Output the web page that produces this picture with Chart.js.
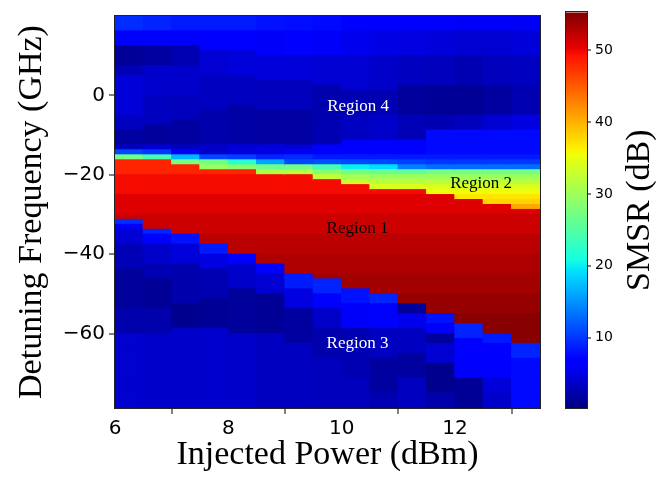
<!DOCTYPE html>
<html>
<head>
<meta charset="utf-8">
<script src="https://cdn.jsdelivr.net/npm/chart.js@4.4.1/dist/chart.umd.min.js"></script>
<style>
  html, body { margin: 0; padding: 0; background: #fff; }
  #wrap { position: relative; width: 668px; height: 480px; }
  #mapBox { position: absolute; left: 0; top: 0; }
  #barBox { position: absolute; left: 548px; top: 0; }
</style>
</head>
<body>
<div id="wrap">
  <div id="mapBox"><canvas id="smsrMap" width="548" height="480"></canvas></div>
  <div id="barBox"><canvas id="smsrBar" width="120" height="480"></canvas></div>
</div>
<script>
// injected power, column centres (dBm), columns are 0.5 dBm wide
const injectedPower = [6.25, 6.75, 7.25, 7.75, 8.25, 8.75, 9.25, 9.75, 10.25, 10.75, 11.25, 11.75, 12.25, 12.75, 13.25];
// detuning grid (GHz)
const detuningTop = 20;
const detuningBottom = -78.75;
const detuningStep = 1.25;

// region 1 (locked) edges for each column, GHz
const lockTop = [-16.25, -16.25, -17.5, -18.75, -18.75, -20, -20, -21.25, -22.5, -23.75, -23.75, -25, -26.25, -27.5, -28.75];
const lockBottom = [-31.25, -33.75, -35, -37.5, -40, -42.5, -45, -46.25, -48.75, -50, -52.5, -55, -57.5, -60, -62.5];
// SMSR inside region 1 by detuning band: [lower edge GHz, dB]
const lockSmsr = [[-20, 48.3], [-25, 49.7], [-30, 50.8], [-35, 51.6], [-40, 52.5], [-45, 53.1], [-50, 53.6], [-55, 54.2], [-65, 54.9]];

// above region 1 (regions 4 and 2), from +20 GHz down: [lower edge GHz, dB]
const upperSmsr = [
  [[16.25, 9.5], [12.5, 6.5], [7.5, 1.4], [5, 2.8], [-5, 4.4], [-8.75, 3.3], [-12.5, 1.8], [-13.75, 3.3], [-15, 11], [-16.25, 27]],
  [[16.25, 9], [12.5, 7], [7.5, 1.8], [0, 3.9], [-7.5, 3.3], [-12.5, 1.6], [-13.75, 4.2], [-15, 10], [-16.25, 24]],
  [[16.25, 8.5], [12.5, 6.5], [7.5, 2.6], [0, 3.8], [-6.25, 3.1], [-12.5, 1.8], [-13.75, 3.3], [-15, 6], [-16.25, 17], [-17.5, 27.5]],
  [[16.25, 8.5], [11.25, 6.8], [5, 4.1], [-3.75, 3.3], [-12.5, 2.3], [-15, 3.8], [-16.25, 11], [-17.5, 27], [-18.75, 29.5]],
  [[16.25, 8.5], [11.25, 6.2], [5, 4.5], [-2.5, 3.3], [-12.5, 2.1], [-15, 4.5], [-16.25, 10.5], [-17.5, 22], [-18.75, 28.5]],
  [[16.25, 8], [10, 6], [3.75, 4.5], [-3.75, 3.1], [-12.5, 1.9], [-15, 4.8], [-16.25, 9], [-17.5, 16], [-18.75, 27], [-20, 31]],
  [[16.25, 7.8], [10, 6.3], [3.75, 4.5], [-3.75, 3.1], [-12.5, 1.9], [-13.75, 4.3], [-15, 6], [-16.25, 9.5], [-17.5, 11], [-18.75, 27], [-20, 31.5]],
  [[16.25, 7.5], [10, 6], [2.5, 4.1], [-5, 2.3], [-12.5, 2.6], [-15, 6.5], [-16.25, 8.5], [-17.5, 11.5], [-18.75, 24], [-20, 28.5], [-21.25, 32.5]],
  [[16.25, 7], [10, 5.5], [1.25, 4.1], [-5, 2.6], [-11.25, 3.3], [-15, 6.5], [-16.25, 8.5], [-17.5, 11], [-18.75, 20], [-20, 27], [-21.25, 30.5], [-22.5, 33]],
  [[16.25, 6.8], [10, 5], [1.25, 3.8], [-5, 2.6], [-11.25, 3.8], [-15, 7], [-16.25, 8.5], [-17.5, 11], [-18.75, 19], [-20, 26.5], [-21.25, 30], [-22.5, 32], [-23.75, 34]],
  [[16.25, 6.5], [10, 4.8], [2.5, 3.3], [-5, 1.6], [-11.25, 2.8], [-15, 7], [-16.25, 8.5], [-17.5, 10.5], [-18.75, 14], [-20, 26], [-21.25, 30], [-22.5, 32], [-23.75, 34]],
  [[16.25, 6.3], [10, 4.5], [2.5, 3.1], [-5, 1.3], [-8.75, 2.6], [-15, 7.5], [-16.25, 8.5], [-17.5, 10], [-18.75, 13], [-20, 27], [-21.25, 30], [-22.5, 32], [-23.75, 34], [-25, 35.5]],
  [[16.25, 6], [10, 4.1], [2.5, 2.6], [-5, 1.3], [-8.75, 3.1], [-15, 7.5], [-16.25, 8.5], [-17.5, 10], [-18.75, 13], [-20, 27], [-21.25, 30], [-22.5, 32], [-23.75, 34], [-25, 35.5], [-26.25, 37]],
  [[16.25, 6], [10, 4.1], [2.5, 3.1], [-5, 1.8], [-8.75, 4.1], [-15, 7.5], [-16.25, 8.5], [-17.5, 10], [-18.75, 13], [-20, 27], [-21.25, 30], [-22.5, 32], [-23.75, 34], [-25, 35.5], [-26.25, 37], [-27.5, 38]],
  [[16.25, 5.8], [10, 4.5], [2.5, 3.3], [-5, 2.6], [-8.75, 4.8], [-15, 7.5], [-16.25, 8.5], [-17.5, 10], [-18.75, 13], [-20, 27], [-21.25, 30], [-22.5, 32], [-23.75, 34], [-25, 35.5], [-26.25, 37], [-27.5, 38], [-28.75, 40.5]]
];

// below region 1 (region 3), from lockBottom down: [lower edge GHz, dB]
const lowerSmsr = [
  [[-32.5, 9.5], [-33.75, 6], [-37.5, 4.2], [-43.75, 2.8], [-53.75, 1.5], [-60, 2.3], [-78.75, 4]],
  [[-35, 9], [-37.5, 7], [-42.5, 3.8], [-46.25, 2.6], [-53.75, 1.3], [-60, 2.3], [-78.75, 3.8]],
  [[-37.5, 8], [-42.5, 4.5], [-52.5, 2.3], [-58.75, 0.9], [-78.75, 3.8]],
  [[-40, 8.5], [-43.75, 4.8], [-51.25, 2.6], [-58.75, 1.3], [-78.75, 3.9]],
  [[-42.5, 6.5], [-48.75, 3.8], [-60, 1.5], [-78.75, 3.8]],
  [[-45, 7], [-50, 4.1], [-60, 1.3], [-78.75, 3.3]],
  [[-48.75, 8.5], [-53.75, 4.8], [-62.5, 1.8], [-78.75, 3.3]],
  [[-50, 9], [-53.75, 6.5], [-58.75, 3.8], [-66.25, 2.3], [-78.75, 3.1]],
  [[-52.5, 8], [-58.75, 6], [-71.25, 2.6], [-78.75, 3.1]],
  [[-52.5, 9], [-58.75, 7], [-66.25, 3.3], [-75, 1.8], [-78.75, 2.6]],
  [[-55, 1.5], [-58.75, 5.5], [-65, 3.3], [-71.25, 1.8], [-78.75, 3.3]],
  [[-57.5, 8], [-60, 6], [-62.5, 1.5], [-67.5, 4.1], [-75, 0.9], [-78.75, 2.3]],
  [[-61.25, 9], [-71.25, 6.5], [-78.75, 1.3]],
  [[-62.5, 8.5], [-71.25, 6.5], [-75, 4.5], [-78.75, 3.8]],
  [[-66.25, 9], [-78.75, 7.5]]
];

const powerTicks = [6, 8, 10, 12];
const detuningTicks = [-60, -40, -20, 0];
const smsrTicks = [10, 20, 30, 40, 50];
const smsrMin = 0.2;
const smsrMax = 55.3;

const regionNotes = [
  { text: "Region 4", power: 10.29, detuning: -2.8, color: "#ffffff" },
  { text: "Region 2", power: 12.46, detuning: -22.3, color: "#000000" },
  { text: "Region 1", power: 10.28, detuning: -33.5, color: "#000000" },
  { text: "Region 3", power: 10.28, detuning: -62.4, color: "#ffffff" }
];

// matplotlib "jet"
const jetR = [[0, 0], [0.35, 0], [0.66, 1], [0.89, 1], [1, 0.5]];
const jetG = [[0, 0], [0.125, 0], [0.375, 1], [0.64, 1], [0.91, 0], [1, 0]];
const jetB = [[0, 0.5], [0.11, 1], [0.34, 1], [0.65, 0], [1, 0]];

function channel(pts, f) {
  for (let i = 1; i < pts.length; i++) {
    if (f <= pts[i][0]) {
      const [x0, y0] = pts[i - 1];
      const [x1, y1] = pts[i];
      return y0 + (y1 - y0) * (f - x0) / (x1 - x0);
    }
  }
  return pts[pts.length - 1][1];
}

function jetAt(f) {
  const c = [jetR, jetG, jetB].map(p => Math.round(255 * channel(p, f)));
  return `rgb(${c[0]}, ${c[1]}, ${c[2]})`;
}

function smsrColor(v) {
  return jetAt(Math.min(1, Math.max(0, (v - smsrMin) / (smsrMax - smsrMin))));
}

// one bar per 1.25 GHz cell
const cells = [];
function pushRun(col, top, bottom, smsr) {
  const n = Math.round((top - bottom) / detuningStep);
  for (let r = 0; r < n; r++) {
    const hi = top - r * detuningStep;
    cells.push({ x: injectedPower[col], y: [hi - detuningStep, hi], smsr });
  }
}

injectedPower.forEach((p, col) => {
  let top = detuningTop;
  upperSmsr[col].forEach(([edge, v]) => {
    pushRun(col, top, edge, v);
    top = edge;
  });
  const nLock = Math.round((lockTop[col] - lockBottom[col]) / detuningStep);
  for (let r = 0; r < nLock; r++) {
    const hi = lockTop[col] - r * detuningStep;
    const band = lockSmsr.find(b => hi - detuningStep / 2 > b[0]);
    pushRun(col, hi, hi - detuningStep, band[1]);
  }
  top = lockBottom[col];
  lowerSmsr[col].forEach(([edge, v]) => {
    pushRun(col, top, edge, v);
    top = edge;
  });
});

const frame = {
  id: "frame",
  afterDatasetsDraw(chart) {
    const { ctx, chartArea: a } = chart;
    ctx.save();
    ctx.strokeStyle = "#222";
    ctx.lineWidth = 1;
    ctx.strokeRect(Math.round(a.left) - 0.5, Math.round(a.top) - 0.5, Math.round(a.right - a.left) + 1, Math.round(a.bottom - a.top) + 1);
    ctx.restore();
  }
};

const notes = {
  id: "notes",
  afterDatasetsDraw(chart) {
    const { ctx, scales } = chart;
    ctx.save();
    ctx.font = "17px 'Liberation Serif'";
    ctx.textAlign = "center";
    ctx.textBaseline = "middle";
    regionNotes.forEach(n => {
      ctx.fillStyle = n.color;
      ctx.fillText(n.text, scales.x.getPixelForValue(n.power), scales.y.getPixelForValue(n.detuning));
    });
    ctx.restore();
  }
};

const tickFont = { family: "DejaVu Sans", size: 20 };
const titleFont = { family: "Liberation Serif", size: 34 };
// grid lines are off the plot, only the outward tick marks are drawn
const axisGrid = { drawOnChartArea: false, drawTicks: true, lineWidth: 0, tickWidth: 1, tickLength: 6, tickColor: "#000" };

new Chart(document.getElementById("smsrMap"), {
  type: "bar",
  data: {
    datasets: [{
      data: cells,
      backgroundColor: cells.map(c => smsrColor(c.smsr)),
      borderWidth: 0,
      barPercentage: 1,
      categoryPercentage: 1,
      inflateAmount: 0.6
    }]
  },
  options: {
    responsive: false,
    animation: false,
    layout: { padding: { top: 10.5, right: 8, left: 0, bottom: 0 } },
    plugins: { legend: { display: false }, tooltip: { enabled: false } },
    scales: {
      x: {
        type: "linear",
        min: 6,
        max: 13.5,
        offset: false,
        afterBuildTicks: s => { s.ticks = powerTicks.map(v => ({ value: v })); },
        afterFit: s => { s.height = 72; },
        grid: axisGrid,
        border: { display: true, color: "#222" },
        ticks: { color: "#000", font: tickFont, padding: 3, maxRotation: 0 },
        title: { display: true, text: "Injected Power (dBm)", color: "#000", font: titleFont, padding: { top: 0, bottom: 5 } }
      },
      y: {
        type: "linear",
        min: detuningBottom,
        max: detuningTop,
        afterBuildTicks: s => { s.ticks = detuningTicks.map(v => ({ value: v })); },
        afterFit: s => { s.width = 115; },
        grid: axisGrid,
        border: { display: true, color: "#222" },
        ticks: {
          color: "#000",
          font: tickFont,
          padding: 4,
          callback: v => String(v).replace("-", "\u2212")
        },
        title: { display: true, text: "Detuning Frequency (GHz)", color: "#000", font: titleFont, padding: { top: 12, bottom: 0 } }
      }
    }
  },
  plugins: [frame, notes]
});

// colour bar
const jetStops = [0, 0.11, 0.125, 0.34, 0.35, 0.375, 0.64, 0.65, 0.66, 0.89, 0.91, 1];
const barTitle = {
  id: "barTitle",
  afterDraw(chart) {
    const { ctx, chartArea: a } = chart;
    ctx.save();
    ctx.translate(92, (a.top + a.bottom) / 2);
    ctx.rotate(-Math.PI / 2);
    ctx.font = "34px 'Liberation Serif'";
    ctx.fillStyle = "#000";
    ctx.textAlign = "center";
    ctx.textBaseline = "middle";
    ctx.fillText("SMSR (dB)", 0, 0);
    ctx.restore();
  }
};

new Chart(document.getElementById("smsrBar"), {
  type: "bar",
  data: {
    labels: ["SMSR"],
    datasets: [{
      data: [[smsrMin, smsrMax]],
      backgroundColor: ctx => {
        const chart = ctx.chart;
        const y = chart.scales.y;
        if (!chart.chartArea || !y) return smsrColor(smsrMax / 2);
        const g = chart.ctx.createLinearGradient(0, y.getPixelForValue(smsrMin), 0, y.getPixelForValue(smsrMax));
        jetStops.forEach(f => g.addColorStop(f, jetAt(f)));
        return g;
      },
      borderWidth: 0,
      barPercentage: 1,
      categoryPercentage: 1
    }]
  },
  options: {
    responsive: false,
    animation: false,
    layout: { padding: { top: 10.5, left: 18, right: 0, bottom: 72 } },
    plugins: { legend: { display: false }, tooltip: { enabled: false } },
    scales: {
      x: { display: false },
      y: {
        position: "right",
        min: smsrMin,
        max: smsrMax,
        afterBuildTicks: s => { s.ticks = smsrTicks.map(v => ({ value: v })); },
        afterFit: s => { s.width = 81; },
        grid: { drawOnChartArea: false, drawTicks: true, lineWidth: 0, tickWidth: 1, tickLength: 4, tickColor: "#000" },
        border: { display: true, color: "#222" },
        ticks: { color: "#000", font: { family: "DejaVu Sans", size: 14 }, padding: 4 }
      }
    }
  },
  plugins: [frame, barTitle]
});
</script>
</body>
</html>
